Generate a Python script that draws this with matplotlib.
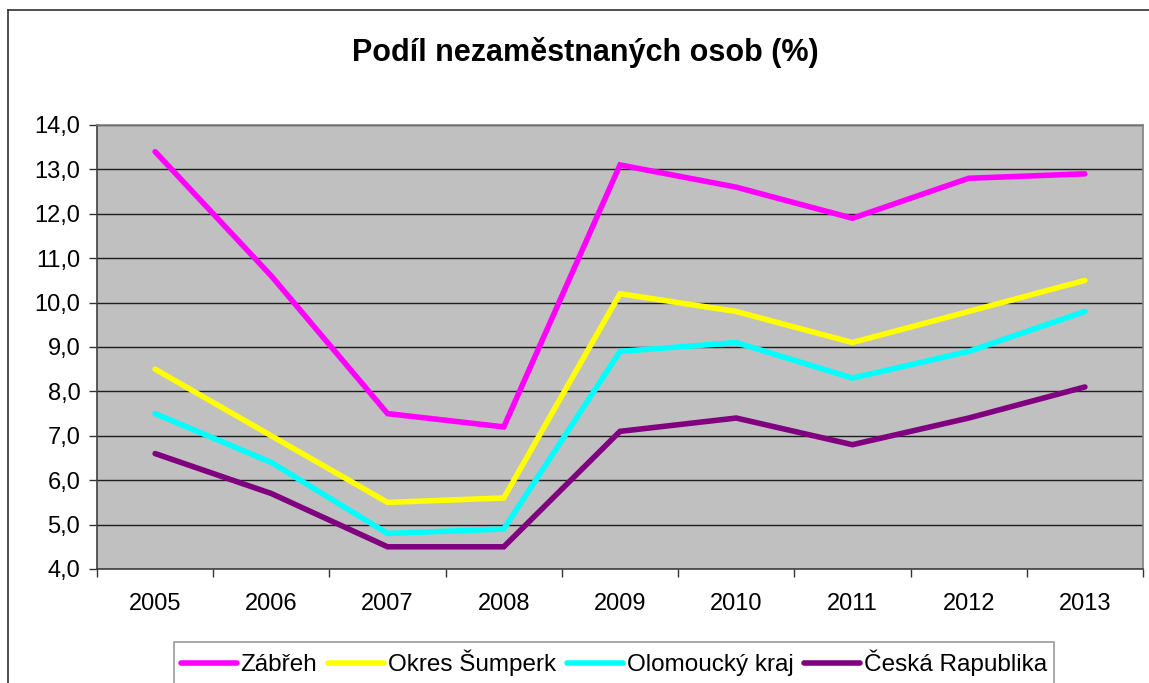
import matplotlib
matplotlib.use("Agg")
import matplotlib.pyplot as plt
from matplotlib.lines import Line2D

plt.rcParams["font.family"] = ["Liberation Sans", "DejaVu Sans"]

years = ["2005", "2006", "2007", "2008", "2009", "2010", "2011", "2012", "2013"]
zabreh = [13.4, 10.6, 7.5, 7.2, 13.1, 12.6, 11.9, 12.8, 12.9]
sumperk = [8.5, 7.0, 5.5, 5.6, 10.2, 9.8, 9.1, 9.8, 10.5]
olomoucky = [7.5, 6.4, 4.8, 4.9, 8.9, 9.1, 8.3, 8.9, 9.8]
cr = [6.6, 5.7, 4.5, 4.5, 7.1, 7.4, 6.8, 7.4, 8.1]

series = [
    ("Zábřeh", zabreh, "#FF00FF"),
    ("Okres Šumperk", sumperk, "#FFFF00"),
    ("Olomoucký kraj", olomoucky, "#00FFFF"),
    ("Česká Rapublika", cr, "#800080"),
]

W, H = 1149, 683
fig = plt.figure(figsize=(W / 100, H / 100), dpi=100)
# plot area in pixels: left 97, right 1143, top 125, bottom 569
ax = fig.add_axes([97 / W, 1 - 569 / H, (1143 - 97) / W, (569 - 125) / H])
ax.set_facecolor("#C0C0C0")

x = list(range(len(years)))
for name, vals, col in series:
    ax.plot(x, vals, color=col, lw=4.0, label=name, solid_capstyle="round",
            solid_joinstyle="miter", zorder=3)

ax.set_ylim(4, 14)
ax.set_yticks([4 + i for i in range(11)])
ax.set_yticklabels([f"{4 + i},0" for i in range(11)], fontsize=17)
ax.yaxis.grid(True, color="#000000", lw=1.0, alpha=0.85)
ax.set_axisbelow(True)

ax.set_xlim(-0.5, len(years) - 0.5)
ax.set_xticks(x)
ax.set_xticklabels(years, fontsize=17)
ax.set_xticks([i - 0.5 for i in range(len(years) + 1)], minor=True)
ax.tick_params(axis="x", which="major", length=0, pad=17)
ax.tick_params(axis="x", which="minor", length=6, width=1, color="#333333")
ax.tick_params(axis="y", length=6, width=1, color="#333333", pad=6)

for side in ["left", "bottom"]:
    ax.spines[side].set_color("#404040")
    ax.spines[side].set_linewidth(1.2)
for side in ["top", "right"]:
    ax.spines[side].set_color("#808080")
    ax.spines[side].set_linewidth(1.2)

fig.text(585 / W, 1 - 52 / H, "Podíl nezaměstnaných osob (%)", ha="center",
         va="center", fontsize=22, fontweight="bold")

leg = fig.legend(loc="center", bbox_to_anchor=(614 / W, 1 - 663 / H), ncol=4,
                 fontsize=17.5, frameon=True, fancybox=False, handlelength=2.3,
                 handletextpad=0.15, columnspacing=0.45, borderpad=0.3)
leg.get_frame().set_edgecolor("#808080")
leg.get_frame().set_linewidth(1.2)

# outer chart border (left and top visible)
fig.add_artist(Line2D([8 / W, 8 / W], [0, 1 - 10 / H], transform=fig.transFigure,
                      color="#303030", lw=1.2))
fig.add_artist(Line2D([8 / W, 1], [1 - 10 / H, 1 - 10 / H], transform=fig.transFigure,
                      color="#303030", lw=1.2))

fig.savefig("out.png", dpi=100)
